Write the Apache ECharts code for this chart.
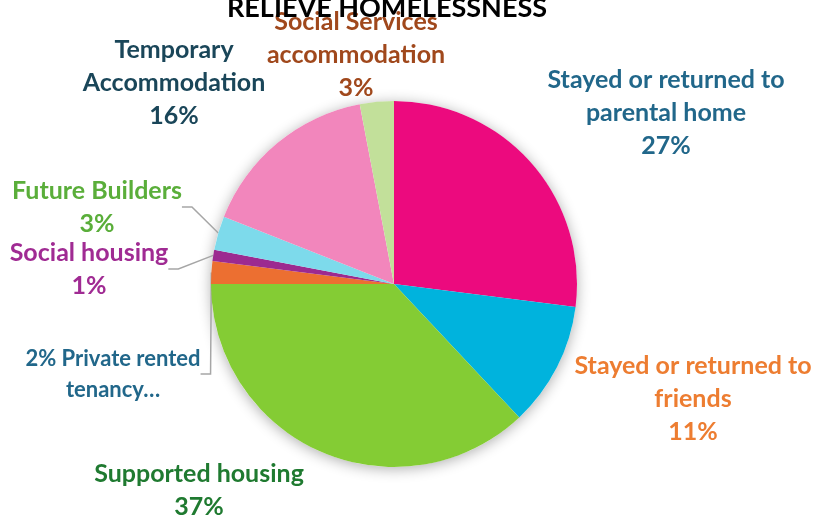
<!DOCTYPE html>
<html>
<head>
<meta charset="utf-8">
<script src="https://cdn.jsdelivr.net/npm/echarts@6/dist/echarts.min.js"></script>
<style>
  html, body { margin: 0; padding: 0; background: #fff; }
  #chart { width: 815px; height: 516px; }
</style>
</head>
<body>
<div id="chart"></div>
<script>
// Outcomes for young people where the duty to relieve homelessness ended
const categories = [
  'Stayed or returned to\nparental home',
  'Stayed or returned to\nfriends',
  'Supported housing',
  'Private rented\ntenancy…',
  'Social housing',
  'Future Builders',
  'Temporary\nAccommodation',
  'Social Services\naccommodation'
];
const values = [27, 11, 37, 2, 1, 3, 16, 3];
const sliceColors = ['#EC0A7E', '#00B3DD', '#84CC34', '#EC6F31', '#9C2A90', '#7DDAEB', '#F286BC', '#C2E09A'];
const labelColors = ['#21678A', '#ED7D31', '#1F7A30', '#21678A', '#A02B93', '#5AAE3A', '#1A4659', '#A0481C'];
// percentage printed before the name instead of under it
const percentFirst = [false, false, false, true, false, false, false, false];
const withLeader = [false, false, false, true, true, true, false, false];

// label block centres
const labelSpots = [
  [666, 113], [693, 399], [199, 490], [113, 374],
  [89, 269], [97, 207], [174, 83], [356, 55]
];

const FONT = 'Lato, "Open Sans", sans-serif';

const chart = echarts.init(document.getElementById('chart'));

const pieData = categories.map((name, i) => ({
  name: name,
  value: values[i],
  itemStyle: { color: sliceColors[i] },
  label: {
    color: labelColors[i],
    fontSize: percentFirst[i] ? 22 : 25,
    lineHeight: percentFirst[i] ? 31 : 33,
    formatter: percentFirst[i]
      ? values[i] + '% ' + name
      : name + '\n' + values[i] + '%'
  },
  labelLine: { show: withLeader[i] }
}));

chart.setOption({
  animation: false,
  title: {
    text: 'RELIEVE HOMELESSNESS',
    left: 382,
    top: -10,
    textAlign: 'center',
    textStyle: { fontFamily: FONT, fontWeight: 'bold', fontSize: 27, color: '#000' }
  },
  series: [
    {
      // soft drop shadow behind the pie
      type: 'pie',
      silent: true,
      z: 1,
      center: [394, 284],
      radius: 183,
      label: { show: false },
      labelLine: { show: false },
      itemStyle: {
        color: '#fff',
        shadowBlur: 14,
        shadowColor: 'rgba(0,0,0,0.32)',
        shadowOffsetY: 2
      },
      data: [1]
    },
    {
      type: 'pie',
      z: 2,
      center: [394, 284],
      radius: 183,
      startAngle: 90,
      clockwise: true,
      itemStyle: { borderWidth: 0 },
      emphasis: { disabled: true },
      label: {
        show: true,
        position: 'outside',
        fontFamily: FONT,
        fontWeight: 'bold',
        align: 'center',
        overflow: 'none'
      },
      labelLine: {
        lineStyle: { color: '#A6A6A6', width: 1.5 },
        length: 10,
        length2: 10
      },
      labelLayout: function (params) {
        const p = labelSpots[params.dataIndex];
        return { x: p[0], y: p[1], align: 'center', verticalAlign: 'middle' };
      },
      data: pieData
    }
  ]
});
</script>
</body>
</html>
